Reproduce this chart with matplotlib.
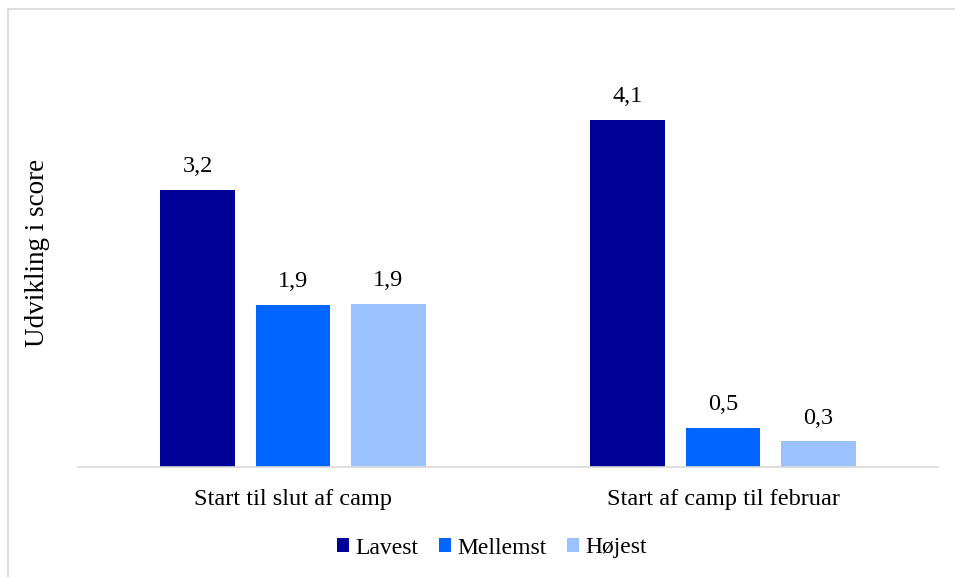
import numpy as np
import matplotlib.pyplot as plt
from matplotlib.patches import Rectangle

categories = ['Start til slut af camp', 'Start af camp til februar']
series = ['Lavest', 'Mellemst', 'Højest']
lavest = [3.24, 4.06]
mellemst = [1.90, 0.46]
hojest = [1.91, 0.30]
colors = ['#000099', '#0066ff', '#99c2ff']

W, H = 955, 577
fig = plt.figure(figsize=(W / 100, H / 100), dpi=100)
plt.rcParams['font.family'] = ['Liberation Serif', 'DejaVu Serif']

# outer chart frame (right and bottom edges fall outside the image)
fig.patches.append(Rectangle((8 / W, -0.01), 1.0, (H - 9) / H + 0.01,
                             transform=fig.transFigure, fill=False,
                             edgecolor='#d9d9d9', linewidth=1.2))

ax = fig.add_axes([78 / W, (H - 467) / H, 860 / W, 427.5 / H])
x = np.arange(len(categories))
w = 0.1744
off = 0.221
for i, (name, vals) in enumerate(zip(series, [lavest, mellemst, hojest])):
    xs = x + (i - 1) * off
    ax.bar(xs, vals, width=w, color=colors[i], label=name)
    for xx, v in zip(xs, vals):
        ax.text(xx, v + 0.15, f'{v:.1f}'.replace('.', ','), ha='center',
                va='bottom', fontsize=17.5)

ax.set_xlim(-0.5, 1.5)
ax.set_ylim(0, 5)
for s in ['top', 'right', 'left']:
    ax.spines[s].set_visible(False)
ax.spines['bottom'].set_color('#d9d9d9')
ax.spines['bottom'].set_linewidth(1.2)
ax.set_yticks([])
ax.set_xticks(x)
ax.set_xticklabels(categories, fontsize=17.5)
ax.tick_params(axis='x', length=0, pad=16)
ax.set_ylabel('Udvikling i score', fontsize=19.5, labelpad=20)

leg = ax.legend(loc='center', bbox_to_anchor=(492 / W, (H - 548) / H), bbox_transform=fig.transFigure,
                ncol=3, frameon=False, fontsize=17, handlelength=0.5, handleheight=0.5,
                handletextpad=0.25, columnspacing=0.9)

fig.savefig('out.png', dpi=100)
